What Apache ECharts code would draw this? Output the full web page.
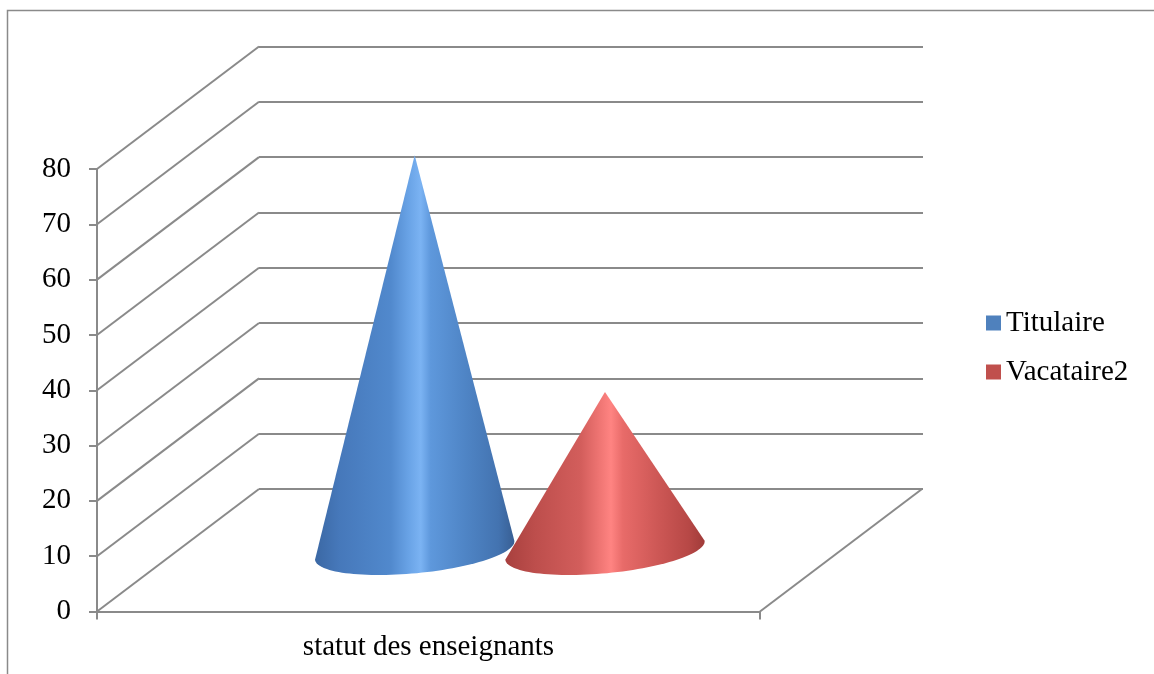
<!DOCTYPE html>
<html>
<head>
<meta charset="utf-8">
<script src="https://cdn.jsdelivr.net/npm/echarts@6/dist/echarts.min.js"></script>
<style>
  html, body { margin: 0; padding: 0; background: #fff; }
  #chart { width: 1154px; height: 674px; }
</style>
</head>
<body>
<div id="chart"></div>
<script>
// ---- data ----
var categories = ['statut des enseignants'];
var seriesNames = ['Titulaire', 'Vacataire2'];
var titulaireValues = [71.4];
var vacataireValues = [28.6];
var yTicks = [0, 10, 20, 30, 40, 50, 60, 70, 80];

// ---- style / layout constants ----
var FONT = '"Liberation Serif", "Times New Roman", serif';
var GRID_COLOR = '#8a8a8a';
var LW = 2;
var DX = 162, DY = -122.5;          // depth offset of back wall
var CONE_DEPTH = 0.5;               // cones sit halfway in depth
var CONE_OFFSET = [-0.143, 0.144];  // fraction of band width from band centre
var CONE_HALF = 0.151;              // base half-width as fraction of band
var CONE_B = 23;                    // base ellipse minor semi-axis
var CONE_TILT = -0.095;             // base ellipse tilt (rad)

var gradients = [
  [
    { offset: 0, color: '#3b68a4' },
    { offset: 0.12, color: '#4678ba' },
    { offset: 0.38, color: '#5189cd' },
    { offset: 0.47, color: '#69a3e6' },
    { offset: 0.53, color: '#7bb3f3' },
    { offset: 0.58, color: '#5e98dc' },
    { offset: 0.75, color: '#4f85c6' },
    { offset: 0.92, color: '#4373b0' },
    { offset: 1, color: '#385f94' }
  ],
  [
    { offset: 0, color: '#a8403e' },
    { offset: 0.15, color: '#bd4e4c' },
    { offset: 0.38, color: '#d35e5c' },
    { offset: 0.47, color: '#ee7472' },
    { offset: 0.53, color: '#ff8482' },
    { offset: 0.59, color: '#e86b69' },
    { offset: 0.76, color: '#ce5856' },
    { offset: 0.92, color: '#b74846' },
    { offset: 1, color: '#a03b39' }
  ]
];

function coneRenderer(idx) {
  return function (params, api) {
    var band = api.size([1, 0])[0];
    var base = api.coord([api.value(0), 0]);
    var top = api.coord([api.value(0), api.value(1)]);
    var cx = base[0] + CONE_OFFSET[idx] * band + DX * CONE_DEPTH;
    var cy = base[1] + DY * CONE_DEPTH;
    var tipY = top[1] + DY * CONE_DEPTH;
    var a = CONE_HALF * band;
    var pts = [[cx, tipY]];
    var n = 60;
    for (var i = 0; i <= n; i++) {
      var t = Math.PI - Math.PI * i / n;
      var u = a * Math.cos(t), v = CONE_B * Math.sin(t);
      pts.push([
        cx + u * Math.cos(CONE_TILT) - v * Math.sin(CONE_TILT),
        cy + u * Math.sin(CONE_TILT) + v * Math.cos(CONE_TILT)
      ]);
    }
    return {
      type: 'polygon',
      shape: { points: pts },
      style: {
        fill: new echarts.graphic.LinearGradient(0, 0, 1, 0, gradients[idx]),
        stroke: null
      }
    };
  };
}

var chart = echarts.init(document.getElementById('chart'), null, { renderer: 'canvas' });

var option = {
  backgroundColor: '#ffffff',
  animation: false,
  graphic: [{
    type: 'rect',
    shape: { x: 7.5, y: 10.5, width: 1300, height: 800 },
    style: { fill: null, stroke: '#8a8a8a', lineWidth: 1.5 },
    silent: true
  }],
  legend: {
    orient: 'vertical',
    left: 981,
    top: 303,
    itemWidth: 15,
    itemHeight: 15,
    itemGap: 19,
    icon: 'rect',
    data: seriesNames,
    textStyle: { fontFamily: FONT, fontSize: 29, color: '#000', lineHeight: 30 }
  },
  grid: [
    { left: 97, right: 394, top: 169, bottom: 62.5, containLabel: false },
    { left: 259, right: 231, top: 46.5, bottom: 185, containLabel: false }
  ],
  xAxis: [
    {
      gridIndex: 0,
      type: 'category',
      data: categories,
      boundaryGap: true,
      axisLine: { lineStyle: { color: GRID_COLOR, width: LW } },
      axisTick: { show: true, length: 8, lineStyle: { color: GRID_COLOR, width: LW } },
      axisLabel: { fontFamily: FONT, fontSize: 29, color: '#000', margin: 21 }
    },
    {
      gridIndex: 1,
      type: 'category',
      data: categories,
      show: false
    }
  ],
  yAxis: [
    {
      gridIndex: 0,
      type: 'value',
      min: 0, max: 80, interval: 10,
      axisLine: { show: true, lineStyle: { color: GRID_COLOR, width: LW } },
      axisTick: { show: true, length: 8, lineStyle: { color: GRID_COLOR, width: LW } },
      splitLine: { show: false },
      axisLabel: { fontFamily: FONT, fontSize: 29, color: '#000', margin: 26 }
    },
    {
      gridIndex: 1,
      type: 'value',
      min: 0, max: 80, interval: 10,
      axisLine: { show: false },
      axisTick: { show: false },
      axisLabel: { show: false },
      splitLine: { show: true, lineStyle: { color: GRID_COLOR, width: LW } }
    }
  ],
  series: [
    {
      name: 'frame',
      type: 'custom',
      xAxisIndex: 0, yAxisIndex: 0,
      silent: true,
      z: 1,
      data: yTicks.map(function (v) { return [0, v]; }),
      renderItem: function (params, api) {
        var cs = params.coordSys;
        var p = api.coord([0, api.value(1)]);
        var x0 = cs.x;
        var children = [{
          type: 'line',
          shape: { x1: x0, y1: p[1], x2: x0 + DX, y2: p[1] + DY },
          style: { stroke: GRID_COLOR, lineWidth: LW }
        }];
        if (api.value(1) === 0) {
          var x1 = cs.x + cs.width;
          children.push({
            type: 'line',
            shape: { x1: x1, y1: p[1], x2: x1 + DX, y2: p[1] + DY },
            style: { stroke: GRID_COLOR, lineWidth: LW }
          });
        }
        return { type: 'group', children: children };
      }
    },
    {
      name: seriesNames[0],
      type: 'custom',
      xAxisIndex: 0, yAxisIndex: 0,
      z: 3,
      itemStyle: { color: '#4F81BD' },
      data: titulaireValues.map(function (v, i) { return [i, v]; }),
      renderItem: coneRenderer(0)
    },
    {
      name: seriesNames[1],
      type: 'custom',
      xAxisIndex: 0, yAxisIndex: 0,
      z: 4,
      itemStyle: { color: '#C0504D' },
      data: vacataireValues.map(function (v, i) { return [i, v]; }),
      renderItem: coneRenderer(1)
    }
  ]
};

chart.setOption(option);
</script>
</body>
</html>
